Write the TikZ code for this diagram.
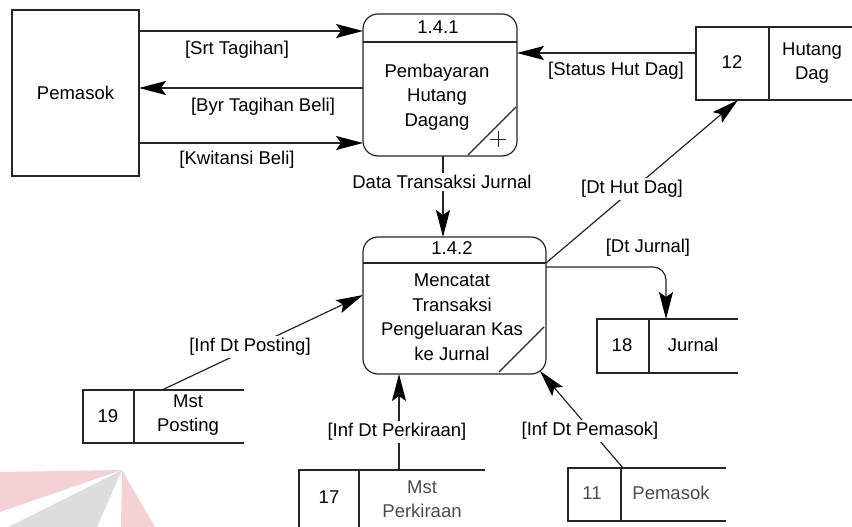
\documentclass[tikz,border=0pt]{standalone}
\usepackage{fontspec}
\setmainfont{Liberation Sans}
\usetikzlibrary{arrows.meta,calc}
\newcommand\dfdsize{\fontsize{18.5}{24.5}\selectfont}
\definecolor{logopink}{RGB}{243,210,214}
\definecolor{logogrey}{RGB}{221,221,221}

\begin{document}
\begin{tikzpicture}[x=1pt,y=-1pt,
  line/.style={draw=black!85,line width=1.2pt},
  flow/.style={line,-{Stealth[length=27pt,width=14pt,inset=5pt,color=black]}},
  lbl/.style={font=\dfdsize,inner sep=1pt,align=center},
  cut/.style={lbl,fill=white,inner sep=2pt},
  proc/.style={line,rectangle,rounded corners=15pt,outer sep=0pt,inner sep=0pt},
  area/.style={rectangle,inner sep=0pt,outer sep=0pt},
  faint/.style={lbl,text=black!70}]

% page frame
\path[use as bounding box] (0,0) rectangle (852,527);
\clip (0,0) rectangle (852,527);
\fill[white] (0,0) rectangle (852,527);

% faint logo in the lower left corner
\fill[logopink] (0,472) -- (122,470) -- (0,512) -- cycle;
\fill[logopink] (122,470) -- (121,527) -- (155,527) -- cycle;
\fill[logogrey] (122,470) -- (8,527) -- (97,527) -- cycle;

% external entity
\node[line,rectangle,minimum width=127pt,minimum height=166pt,outer sep=0pt,font=\dfdsize] (ent) at (75.5,93) {Pemasok};

% process 1.4.1
\node[proc,minimum width=154pt,minimum height=142pt] (p1) at (440,85) {};
\draw[line] (p1.west |- 0,42) -- (p1.east |- 0,42);
\node[lbl] (p1id) at (438,27) {1.4.1};
\node[lbl] (p1txt) at (437,97) {Pembayaran\\Hutang\\Dagang};
\draw[line] ($(p1.south east)+(-49,-1)$) -- ($(p1.south east)+(-1,-49)$);
\draw[line,line width=1pt] ($(p1.south east)+(-27,-17)$) -- ($(p1.south east)+(-11,-17)$)
  ($(p1.south east)+(-19,-25)$) -- ($(p1.south east)+(-19,-9)$);

% process 1.4.2
\node[proc,minimum width=183pt,minimum height=137pt] (p2) at (454.5,305.5) {};
\draw[line] (p2.west |- 0,263) -- (p2.east |- 0,263);
\node[lbl] (p2id) at (452,248) {1.4.2};
\node[lbl] (p2txt) at (452,317) {Mencatat\\Transaksi\\Pengeluaran Kas\\ke Jurnal};
\draw[line] ($(p2.south east)+(-47,-2)$) -- ($(p2.south east)+(-2,-47)$);

% data stores (open on the right)
\node[area,minimum width=174pt,minimum height=73pt] (s12) at (783,63.5) {};
\draw[line] (s12.north east) -- (s12.north west) -- (s12.south west) -- (s12.south east);
\draw[line] ($(s12.north west)+(73,0)$) -- ($(s12.south west)+(73,0)$);
\node[lbl] (s12n) at (732,62) {12};
\node[lbl] (s12t) at (812,63) {Hutang\\Dag};

\node[area,minimum width=141pt,minimum height=54pt] (s18) at (667.5,346) {};
\draw[line] (s18.north east) -- (s18.north west) -- (s18.south west) -- (s18.south east);
\draw[line] ($(s18.north west)+(52,0)$) -- ($(s18.south west)+(52,0)$);
\node[lbl] (s18n) at (622,345) {18};
\node[lbl] (s18t) at (693,345) {Jurnal};

\node[area,minimum width=161pt,minimum height=53pt] (s19) at (163.5,416.5) {};
\draw[line] (s19.north east) -- (s19.north west) -- (s19.south west) -- (s19.south east);
\draw[line] ($(s19.north west)+(51,0)$) -- ($(s19.south west)+(51,0)$);
\node[lbl] (s19n) at (108,416) {19};
\node[lbl] (s19t) at (188,415) {Mst\\Posting};

\node[area,minimum width=186pt,minimum height=70pt] (s17) at (392,505) {};
\draw[line] (s17.south west) -- (s17.north west) -- (s17.north east);
\draw[line] ($(s17.north west)+(60,0)$) -- ($(s17.south west)+(60,0)$);
\node[lbl] (s17n) at (329,497) {17};
\node[faint] (s17t) at (422,499) {Mst\\Perkiraan};

\node[area,minimum width=158pt,minimum height=53pt] (s11) at (647,494.5) {};
\draw[line] (s11.north east) -- (s11.north west) -- (s11.south west) -- (s11.south east);
\draw[line] ($(s11.north west)+(53,0)$) -- ($(s11.south west)+(53,0)$);
\node[faint] (s11n) at (592,493) {11};
\node[faint] (s11t) at (671,493) {Pemasok};

% flows between entity and process 1.4.1
\draw[flow] (ent.east |- 0,31) -- (p1.west |- 0,31);
\node[lbl] (f1) at (237,50) {[Srt Tagihan]};
\draw[flow] (p1.west |- 0,88) -- (ent.east |- 0,88);
\node[lbl] (f2) at (263,107) {[Byr Tagihan Beli]};
\draw[flow] (ent.east |- 0,143) -- (p1.west |- 0,143);
\node[lbl] (f3) at (237,160) {[Kwitansi Beli]};

% store 12 to process 1.4.1
\draw[flow] (s12.west |- 0,53) -- (p1.east |- 0,53);
\node[lbl] (f4) at (616,71) {[Status Hut Dag]};

% process 1.4.1 to process 1.4.2
\draw[flow] (p1.south -| 443,0) -- (p2.north -| 443,0);
\node[cut] (f5) at (442,182) {Data Transaksi Jurnal};

% process 1.4.2 outputs
\draw[flow] (p2.east |- 0,263) -- (s12.south -| 738,0);
\node[cut] (f6) at (632,189) {[Dt Hut Dag]};
\draw[flow,rounded corners=13pt] (p2.east |- 0,267) -| (s18.north -| 666,0);
\node[lbl] (f7) at (648,248) {[Dt Jurnal]};

% inputs to process 1.4.2
\draw[flow] (s19.north -| 162,0) -- (p2.west |- 0,295);
\node[cut] (f8) at (250,347) {[Inf Dt Posting]};
\draw[flow] (s17.north -| 399,0) -- (p2.south -| 399,0);
\node[cut] (f9) at (397,432) {[Inf Dt Perkiraan]};
\draw[flow] (s11.north -| 623,0) -- ($(p2.south east)+(-6,-3)$);
\node[cut] (f10) at (590,431) {[Inf Dt Pemasok]};
\end{tikzpicture}
\end{document}
